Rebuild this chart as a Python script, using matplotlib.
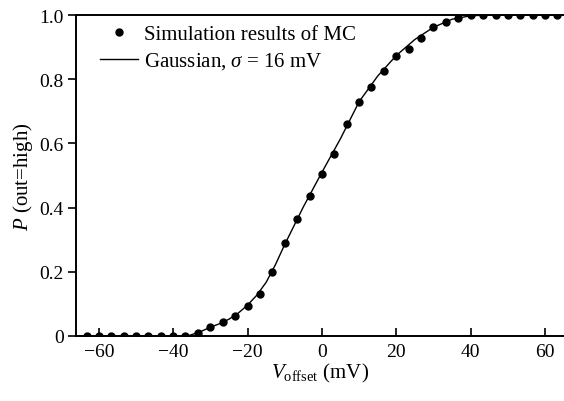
import matplotlib
matplotlib.use("Agg")
import matplotlib.pyplot as plt

plt.rcParams["font.family"] = ["Liberation Serif", "DejaVu Serif"]
plt.rcParams["mathtext.fontset"] = "custom"
plt.rcParams["mathtext.rm"] = "Liberation Serif"
plt.rcParams["mathtext.it"] = "Liberation Serif:italic"

# Monte Carlo points (offset voltage in mV, probability)
mc_v = [-63.3, -60.0, -56.7, -53.3, -50.0, -46.7, -43.3, -40.0, -36.7,
        -33.3, -30.0, -26.7, -23.3, -20.0, -16.7, -13.3, -10.0, -6.7, -3.3,
        0.0, 3.3, 6.7, 10.0, 13.3, 16.7, 20.0, 23.3, 26.7, 30.0, 33.3, 36.7,
        40.0, 43.3, 46.7, 50.0, 53.3, 56.7, 60.0, 63.3]
mc_p = [0.0, 0.0, 0.0, 0.0, 0.0, 0.0, 0.0, 0.0, 0.0,
        0.009, 0.028, 0.044, 0.062, 0.093, 0.131, 0.199, 0.290, 0.364, 0.436,
        0.505, 0.567, 0.660, 0.729, 0.776, 0.826, 0.872, 0.894, 0.928, 0.963, 0.978, 0.990,
        1.0, 1.0, 1.0, 1.0, 1.0, 1.0, 1.0, 1.0]

# Gaussian fit curve, sigma = 16 mV
fit_v = [-66, -60, -55, -50, -45, -40, -36, -35, -32.5, -30, -27.5, -25, -22.5,
         -20, -17.5, -15, -12.5, -10, -5, 0, 5, 10, 15, 20, 25, 30, 35, 40,
         45, 50, 55, 60, 66]
fit_p = [0.0, 0.0, 0.0, 0.0, 0.0, 0.0, 0.0, 0.004, 0.014, 0.027, 0.038, 0.052, 0.071,
         0.096, 0.127, 0.167, 0.222, 0.285, 0.402, 0.510, 0.615, 0.730, 0.810,
         0.874, 0.924, 0.962, 0.987, 0.998, 1.0, 1.0, 1.0, 1.0, 1.0]

fig = plt.figure(figsize=(5.64, 4.02), dpi=100)
ax = fig.add_axes([0.135, 0.162, 0.865, 0.798])

ax.plot(mc_v, mc_p, "o", color="black", markersize=5, label="Simulation results of MC")
ax.plot(fit_v, fit_p, "-", color="black", linewidth=1.0,
        label=r"Gaussian, $\sigma$ = 16 mV")

ax.set_xlim(-66.1, 65.1)
ax.set_ylim(0, 1.0)
ax.set_xticks([-60, -40, -20, 0, 20, 40, 60])
ax.set_yticks([0, 0.2, 0.4, 0.6, 0.8, 1.0])
ax.set_yticklabels(["0", "0.2", "0.4", "0.6", "0.8", "1.0"])

ax.spines["right"].set_visible(False)
for s in ["left", "bottom", "top"]:
    ax.spines[s].set_linewidth(1.4)
ax.tick_params(axis="x", direction="in", length=6, width=1.2, labelsize=14, pad=5)
ax.tick_params(axis="y", direction="out", length=6, width=1.2, labelsize=14, pad=3)

ax.set_xlabel(r"$V_{\rm offset}$ (mV)", fontsize=15, labelpad=1)
ax.set_ylabel(r"$P$ (out=high)", fontsize=15, labelpad=3)

ax.legend(loc="upper left", frameon=False, fontsize=15, handlelength=1.8,
          handletextpad=0.3, borderaxespad=0, borderpad=0, labelspacing=0.3,
          bbox_to_anchor=(0.049, 0.97))

plt.savefig("out.png", dpi=100)
plt.close()
